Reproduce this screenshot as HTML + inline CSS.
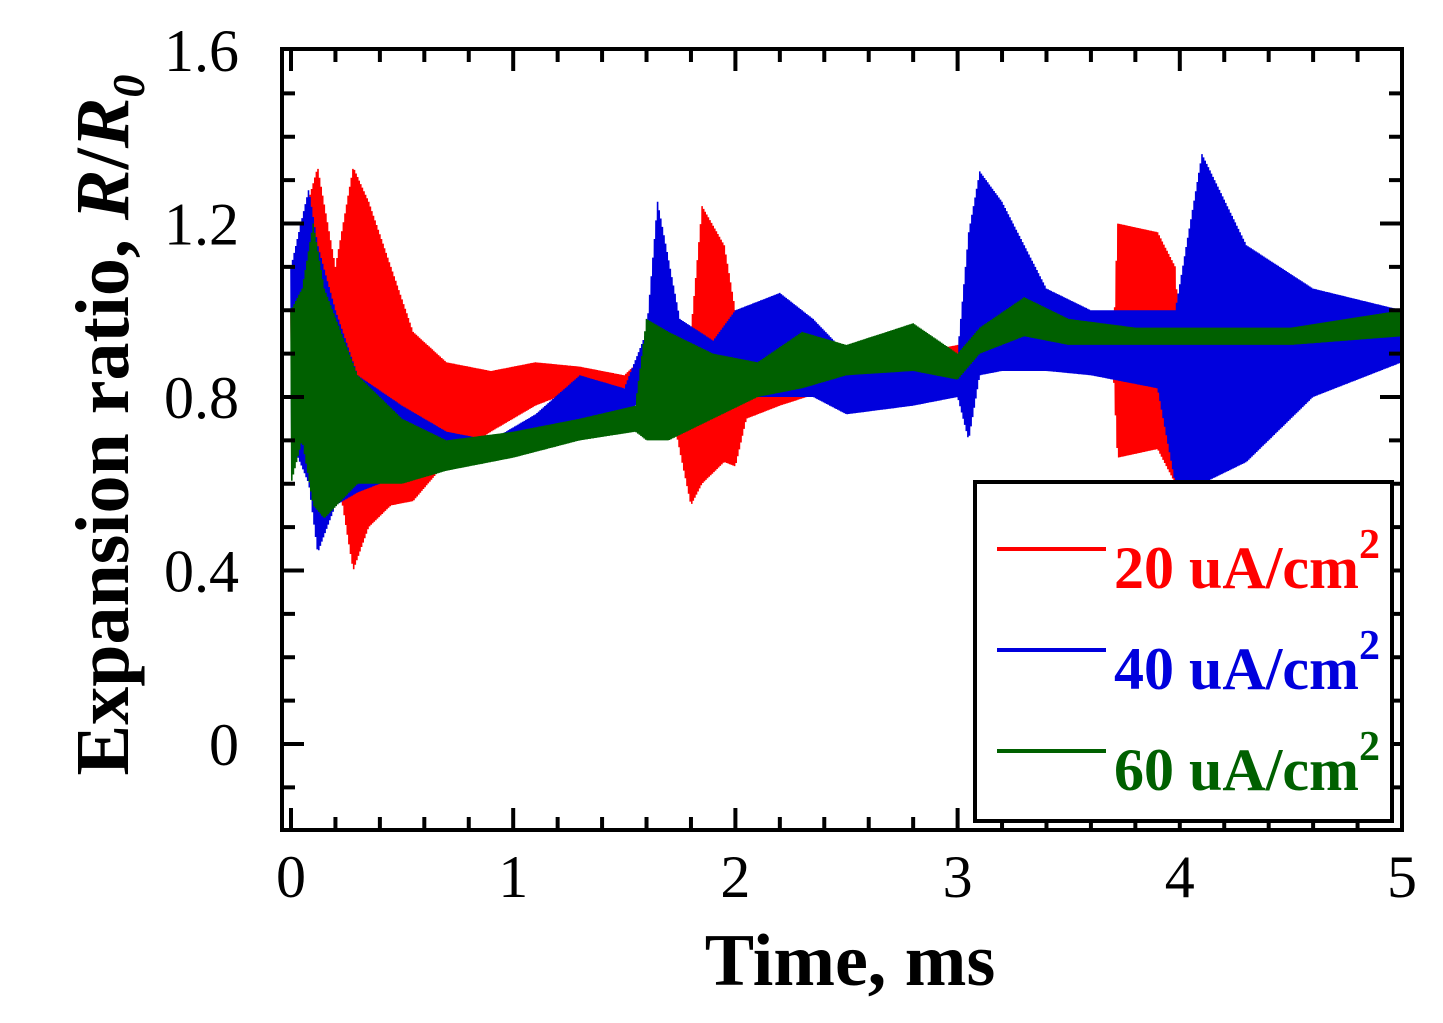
<!DOCTYPE html>
<html><head><meta charset="utf-8"><style>
body{margin:0;background:#fff;}
svg{display:block;font-family:"Liberation Serif",serif;}
</style></head><body>
<svg id="chart" width="1443" height="1023" viewBox="0 0 1443 1023">
<g id="series"></g>
<g id="axes"></g>
<g>
<rect x="975" y="482" width="417" height="339" fill="#fff" stroke="#000" stroke-width="4"/>
<line x1="997" y1="549" x2="1106" y2="549" stroke="#ff0000" stroke-width="4"/>
<text x="1114" y="588" font-size="60" font-weight="bold" fill="#ff0000">20 uA/cm<tspan font-size="42" dy="-30">2</tspan></text>
<line x1="997" y1="650" x2="1106" y2="650" stroke="#0000dd" stroke-width="4"/>
<text x="1114" y="689" font-size="60" font-weight="bold" fill="#0000dd">40 uA/cm<tspan font-size="42" dy="-30">2</tspan></text>
<line x1="997" y1="751" x2="1106" y2="751" stroke="#006000" stroke-width="4"/>
<text x="1114" y="790" font-size="60" font-weight="bold" fill="#006000">60 uA/cm<tspan font-size="42" dy="-30">2</tspan></text>
</g>
<text x="850" y="985" font-size="74" font-weight="bold" text-anchor="middle">Time, ms</text>
<text transform="translate(128,425) rotate(-90)" font-size="76" font-weight="bold" text-anchor="middle">Expansion ratio, <tspan font-style="italic">R</tspan>/<tspan font-style="italic">R</tspan><tspan font-style="italic" font-size="46" dy="16">0</tspan></text>
</svg>
<script>
const xTicks=[0,1,2,3,4,5];
const yTicks=[0,0.4,0.8,1.2,1.6];
const yTickLabels=["0","0.4","0.8","1.2","1.6"];
const t20=[0,0.05,0.12,0.2,0.28,0.35,0.45,0.55,0.7,0.9,1.1,1.3,1.5,1.6,1.7,1.8,1.85,1.95,2.0,2.05,2.2,2.5,2.8,3.0,3.2,3.5,3.7,3.72,3.9,3.98,4.0,4.5,5.0];
const up20=[1.0,1.2,1.33,1.1,1.33,1.25,1.1,0.95,0.88,0.86,0.88,0.87,0.85,0.9,0.95,0.95,1.24,1.15,1.0,0.88,0.85,0.87,0.9,0.92,0.9,0.9,0.9,1.2,1.18,1.1,0.92,0.92,0.92];
const lo20=[0.8,0.85,0.75,0.65,0.4,0.5,0.55,0.56,0.65,0.72,0.78,0.82,0.82,0.83,0.8,0.55,0.6,0.65,0.64,0.75,0.78,0.83,0.85,0.86,0.87,0.86,0.87,0.66,0.68,0.6,0.88,0.88,0.88];
const t40=[0,0.08,0.12,0.2,0.3,0.5,0.7,0.9,1.1,1.3,1.5,1.6,1.65,1.75,1.9,2.0,2.2,2.35,2.5,2.8,3.0,3.05,3.1,3.2,3.4,3.6,3.9,3.98,4.1,4.3,4.6,5.0];
const up40=[1.1,1.28,1.15,1.0,0.85,0.78,0.72,0.7,0.76,0.85,0.82,0.95,1.25,0.98,0.93,1.0,1.04,0.98,0.9,0.88,0.9,1.18,1.32,1.25,1.05,1.0,1.0,1.0,1.36,1.15,1.05,1.0];
const lo40=[0.7,0.6,0.44,0.55,0.58,0.62,0.64,0.66,0.68,0.74,0.76,0.8,0.85,0.82,0.78,0.8,0.8,0.8,0.76,0.78,0.8,0.7,0.85,0.86,0.86,0.85,0.82,0.6,0.6,0.65,0.8,0.88];
const t60=[0,0.05,0.1,0.15,0.3,0.5,0.7,1.0,1.3,1.55,1.6,1.7,1.9,2.1,2.3,2.5,2.8,3.0,3.1,3.3,3.5,3.8,4.5,5.0];
const up60=[1.0,1.05,1.2,1.05,0.85,0.75,0.7,0.72,0.75,0.78,0.98,0.95,0.9,0.88,0.95,0.92,0.97,0.9,0.96,1.03,0.98,0.96,0.96,1.0];
const lo60=[0.6,0.7,0.55,0.52,0.6,0.6,0.63,0.66,0.7,0.72,0.7,0.7,0.75,0.8,0.82,0.85,0.86,0.84,0.9,0.94,0.92,0.92,0.92,0.94];
const NS="http://www.w3.org/2000/svg";
const X0=291,X5=1402,YT=49,YB=830,XL=282,XR=1402;
function xs(v){return X0+(X5-X0)*v/5;}
function ys(v){return 744-433.75*v;}
function interp(ts,vs,t){
  for(let i=1;i<ts.length;i++){ if(t<=ts[i]){const f=(t-ts[i-1])/(ts[i]-ts[i-1]||1);return vs[i-1]+f*(vs[i]-vs[i-1]);} }
  return vs[vs.length-1];
}
function drawSeries(ts,up,lo,color,name){
  let d="";const n=1400;
  for(let i=0;i<=n;i++){
    const t=ts[0]+(ts[ts.length-1]-ts[0])*i/n;
    const v=(i%2===0)?interp(ts,up,t):interp(ts,lo,t);
    d+=(i?"L":"M")+xs(t).toFixed(1)+","+ys(v).toFixed(1);
  }
  const p=document.createElementNS(NS,"path");
  
  
  p.setAttribute("d",d);p.setAttribute("fill","none");p.setAttribute("stroke",color);p.setAttribute("stroke-width","1.6");
  document.getElementById("series").appendChild(p);
}
drawSeries(t20,up20,lo20,"#ff0000","series-20uA");
drawSeries(t40,up40,lo40,"#0000dd","series-40uA");
drawSeries(t60,up60,lo60,"#006000","series-60uA");
const ax=document.getElementById("axes");
function line(x1,y1,x2,y2,name){
  const l=document.createElementNS(NS,"line");
  
  
  l.setAttribute("x1",x1);l.setAttribute("y1",y1);l.setAttribute("x2",x2);l.setAttribute("y2",y2);
  l.setAttribute("stroke","#000");l.setAttribute("stroke-width","4");ax.appendChild(l);
}
function text(x,y,s,anchor,name){
  const t=document.createElementNS(NS,"text");
  
  
  t.setAttribute("x",x);t.setAttribute("y",y);t.setAttribute("font-size","60");t.setAttribute("text-anchor",anchor);
  t.textContent=s;ax.appendChild(t);
}
const fr=document.createElementNS(NS,"rect");


fr.setAttribute("x",XL);fr.setAttribute("y",YT);fr.setAttribute("width",XR-XL);fr.setAttribute("height",YB-YT);
fr.setAttribute("fill","none");fr.setAttribute("stroke","#000");fr.setAttribute("stroke-width","4");ax.appendChild(fr);
for(let k=0;k<=25;k++){
  const v=k*0.2,x=xs(v),maj=(k%5===0),L=maj?22:13;
  line(x,YB,x,YB-L,"x-tick");line(x,YT,x,YT+L,"x-tick-top");
}
xTicks.forEach(v=>text(xs(v),897,String(v),"middle","x-tick-label"));
for(let k=-2;k<=16;k++){
  const v=k*0.1,y=ys(v);if(y>YB-2||y<YT+2)continue;const maj=(k%4===0),L=maj?22:13;
  line(XL,y,XL+L,y,"y-tick");line(XR,y,XR-L,y,"y-tick-right");
}
yTicks.forEach((v,i)=>text(239,ys(v)+21,yTickLabels[i],"end","y-tick-label"));
</script>
</body></html>
